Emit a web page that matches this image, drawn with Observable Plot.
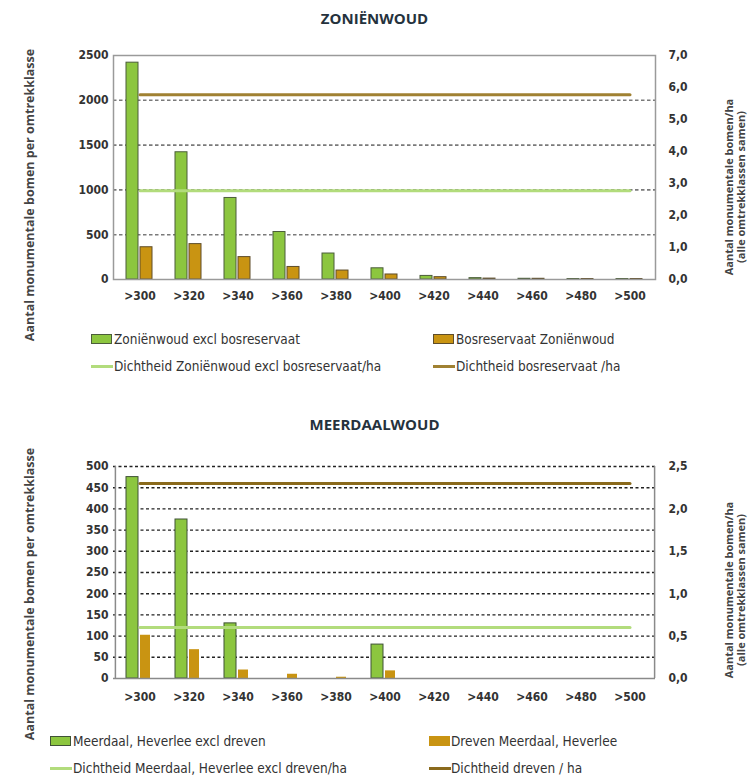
<!DOCTYPE html>
<html><head><meta charset="utf-8">
<script src="https://cdn.jsdelivr.net/npm/d3@7"></script>
<script src="https://cdn.jsdelivr.net/npm/@observablehq/plot@0.6"></script>
<style>
body{margin:0;background:#fff;}
#wrap{position:relative;width:749px;height:777px;overflow:hidden;font-family:"DejaVu Sans Condensed","Liberation Sans",sans-serif;color:#333;}
.title{width:749px;left:0;text-align:center;font-family:"Open Sans",sans-serif;font-weight:bold;font-size:15px;color:#25323d;}
.leg{position:absolute;font-size:13.5px;color:#333;white-space:nowrap;line-height:16px;}
.sw{position:absolute;}
.ytitle{position:absolute;font-family:"Open Sans",sans-serif;font-weight:bold;color:#444;text-align:center;transform:rotate(-90deg);white-space:nowrap;line-height:12px;}
</style></head>
<body><div id="wrap"></div>
<script>
// ---------- data ----------
const categories = [">300",">320",">340",">360",">380",">400",">420",">440",">460",">480",">500"];
// Zoniënwoud
const zonienExcl = [2420,1420,910,530,290,125,40,15,8,5,5];
const bosreservaat = [360,395,250,140,100,56,26,10,8,5,5];
const densZonienExcl = 2.77;
const densBosreservaat = 5.77;
const leftTicksTop = [0,500,1000,1500,2000,2500];
const rightTicksTop = [0,1,2,3,4,5,6,7];
// Meerdaalwoud
const meerdaalExcl = [475,375,130,0,0,80,0,0,0,0,0];
const dreven = [102,68,20,10,3,18,0,0,0,0,0];
const densMeerdaalExcl = 0.6;
const densDreven = 2.3;
const leftTicksBottom = [0,50,100,150,200,250,300,350,400,450,500];
const rightTicksBottom = [0,0.5,1,1.5,2,2.5];

const wrap = document.getElementById("wrap");
const tickFont = {fontFamily:'"DejaVu Sans Condensed","Liberation Sans",sans-serif', fontSize:"12px", fontWeight:"bold", color:"#333", background:"transparent"};
const fmt = v => v.toFixed(1).replace(".", ",");

function add(el, top){ el.style.position="absolute"; el.style.left="0px"; el.style.top=top+"px"; wrap.appendChild(el); }

// ---------- chart 1 ----------
const k1 = 2500/7;
const rows1 = categories.map((c,i)=>({c, a:zonienExcl[i], b:bosreservaat[i]}));
const p1 = Plot.plot({
  width:749, height:390, marginTop:55, marginBottom:111, marginLeft:113, marginRight:94,
  style: tickFont,
  x:{domain:categories, padding:0, axis:null},
  y:{domain:[0,2500], axis:null},
  marks:[
    Plot.ruleY(leftTicksTop.filter(v=>v>0 && v<2500), {stroke:"#7a7a7a", strokeWidth:1.6, strokeDasharray:"3.5,2.5"}),
    Plot.barY(rows1, {x:"c", y:"a", fill:"#8cc63f", stroke:"#4b5d3a", strokeWidth:1, insetLeft:11, insetRight:26}),
    Plot.barY(rows1, {x:"c", y:"b", fill:"#c99412", stroke:"#5e4d2a", strokeWidth:1, insetLeft:25, insetRight:12}),
    Plot.lineY(categories, {x:d=>d, y:()=>densZonienExcl*k1, stroke:"#b2dc7c", strokeWidth:3}),
    Plot.lineY(categories, {x:d=>d, y:()=>densBosreservaat*k1, stroke:"#a08132", strokeWidth:3}),
    Plot.frame({stroke:"#9a9a9a", strokeWidth:1.5}),
    Plot.axisY({anchor:"left", ticks:leftTicksTop, tickSize:0, tickPadding:5, label:null, tickFormat:d=>String(d)}),
    Plot.axisY({anchor:"right", ticks:rightTicksTop.map(v=>v*k1), tickSize:0, tickPadding:13, label:null, tickFormat:v=>fmt(v/k1)}),
    Plot.axisX({tickSize:0, tickPadding:12, label:null})
  ]
});
add(p1, 0);

// ---------- chart 2 ----------
const k2 = 500/2.5;
const rows2 = categories.map((c,i)=>({c, a:meerdaalExcl[i], b:dreven[i]}));
const p2 = Plot.plot({
  width:749, height:377, marginTop:66, marginBottom:99, marginLeft:113, marginRight:94,
  style: tickFont,
  x:{domain:categories, padding:0, axis:null},
  y:{domain:[0,500], axis:null},
  marks:[
    Plot.ruleY(leftTicksBottom.filter(v=>v>0), {stroke:"#222", strokeWidth:1.4, strokeDasharray:"3,2.5"}),
    Plot.barY(rows2.filter(d=>d.a>0), {x:"c", y:"a", fill:"#8cc63f", stroke:"#3f5236", strokeWidth:1, insetLeft:11, insetRight:26}),
    Plot.barY(rows2.filter(d=>d.b>0), {x:"c", y:"b", fill:"#c99412", insetLeft:25, insetRight:14}),
    Plot.lineY(categories, {x:d=>d, y:()=>densMeerdaalExcl*k2, stroke:"#b2dc7c", strokeWidth:3}),
    Plot.lineY(categories, {x:d=>d, y:()=>densDreven*k2, stroke:"#8a6a1c", strokeWidth:3}),
    Plot.ruleY([0], {stroke:"#8a8a8a", strokeWidth:1.5}),
    Plot.ruleX([categories[0]], {stroke:"#8a8a8a", strokeWidth:1.5, dx:-24.6}),
    Plot.ruleX([categories[categories.length-1]], {stroke:"#8a8a8a", strokeWidth:1.5, dx:24.6}),
    Plot.axisY({anchor:"left", ticks:leftTicksBottom, tickSize:0, tickPadding:5, label:null, tickFormat:d=>String(d)}),
    Plot.axisY({anchor:"right", ticks:rightTicksBottom.map(v=>v*k2), tickSize:0, tickPadding:13, label:null, tickFormat:v=>fmt(v/k2)}),
    Plot.axisX({tickSize:0, tickPadding:14, label:null})
  ]
});
add(p2, 400);

// ---------- titles ----------
function text(cls, str, left, top){
  const d = document.createElement("div");
  d.className = cls; d.textContent = str;
  d.style.position="absolute";
  if (left!=null) d.style.left = left+"px";
  d.style.top = top+"px";
  wrap.appendChild(d); return d;
}
text("title","ZONIËNWOUD",0,8);
text("title","MEERDAALWOUD",0,414);

// rotated axis titles
function ytitle(lines, cx, cy, w, fs){
  const d = document.createElement("div");
  d.className="ytitle";
  d.innerHTML = lines.join("<br>");
  const h = lines.length*12;
  d.style.fontSize = fs+"px";
  d.style.width = w+"px"; d.style.height = h+"px";
  d.style.left = (cx - w/2)+"px"; d.style.top = (cy - h/2)+"px";
  wrap.appendChild(d);
}
ytitle(["Aantal monumentale bomen per omtrekklasse"], 30, 195, 330, 12.5);
ytitle(["Aantal monumentale bomen/ha","(alle omtrekklassen samen)"], 735, 187, 240, 11);
ytitle(["Aantal monumentale bomen per omtrekklasse"], 30, 594, 330, 12.5);
ytitle(["Aantal monumentale bomen/ha","(alle omtrekklassen samen)"], 735, 590, 240, 11);

// ---------- legends ----------
function rectSw(left, cy, fill, stroke){
  const s=document.createElement("div"); s.className="sw";
  Object.assign(s.style,{left:left+"px",top:(cy-5)+"px",width:"21px",height:"10px",background:fill,border:stroke?("1px solid "+stroke):"none",boxSizing:"border-box"});
  wrap.appendChild(s);
}
function lineSw(left, cy, color){
  const s=document.createElement("div"); s.className="sw";
  Object.assign(s.style,{left:left+"px",top:(cy-1.5)+"px",width:"22px",height:"3px",background:color});
  wrap.appendChild(s);
}
function legText(str, left, cy){ text("leg", str, left, cy-8); }

rectSw(91, 339, "#8cc63f", "#4b5d3a"); legText("Zoniënwoud excl bosreservaat", 114, 339);
rectSw(433, 339, "#c99412", "#5e4d2a"); legText("Bosreservaat Zoniënwoud", 456, 339);
lineSw(91, 366, "#b2dc7c"); legText("Dichtheid Zoniënwoud excl bosreservaat/ha", 114, 366);
lineSw(433, 366, "#a08132"); legText("Dichtheid bosreservaat /ha", 456, 366);

rectSw(50, 741, "#8cc63f", "#3f5236"); legText("Meerdaal, Heverlee excl dreven", 73, 741);
rectSw(429, 741, "#c99412", null); legText("Dreven Meerdaal, Heverlee", 451, 741);
lineSw(50, 768, "#b2dc7c"); legText("Dichtheid Meerdaal, Heverlee excl dreven/ha", 73, 768);
lineSw(429, 768, "#8a6a1c"); legText("Dichtheid dreven / ha", 451, 768);
</script>
</body></html>
